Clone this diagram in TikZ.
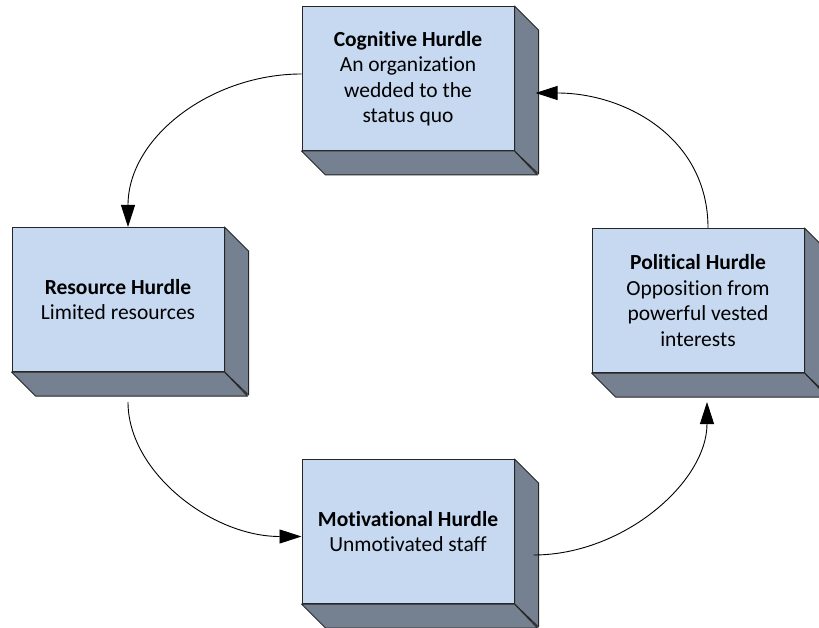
\documentclass[tikz,border=0pt]{standalone}
\usepackage{fontspec}
\setmainfont{Carlito}[Ligatures=NoCommon]
\usetikzlibrary{arrows.meta,calc}
\definecolor{frontblue}{RGB}{198,217,240}
\definecolor{sidegray}{RGB}{117,129,144}
\tikzset{
  hurdle/.style={draw=black!85, line width=1pt, fill=frontblue, minimum width=212pt,
    minimum height=144pt, align=center, inner sep=0pt,
    font=\fontsize{21.5}{25.5}\selectfont},
  sideface/.style={draw=black!85, line width=1pt, fill=sidegray, line join=round},
  link/.style={draw=black, line width=0.9pt, -{Triangle[length=22pt,width=14pt]}},
}
\newcommand\boxsides[1]{%
  \filldraw[sideface] (#1.north east) -- ++(24,24) -- ++(0,144) -- (#1.south east) -- cycle;
  \filldraw[sideface] (#1.south west) -- ++(24,24) -- ++(212,0) -- (#1.south east) -- cycle;
}
\begin{document}
\begin{tikzpicture}[x=1pt,y=-1pt]
  \useasboundingbox (0,0) rectangle (819,628);
  \node[hurdle] (cog) at (408,78.5) {\textbf{Cognitive Hurdle}\\An organization\\wedded to the\\status quo};
  \boxsides{cog}
  \node[hurdle] (res) at (118,299.5) {\textbf{Resource Hurdle}\\Limited resources};
  \boxsides{res}
  \node[hurdle] (mot) at (408,531.5) {\textbf{Motivational Hurdle}\\Unmotivated staff};
  \boxsides{mot}
  \node[hurdle] (pol) at (698,300.5) {\textbf{Political Hurdle}\\Opposition from\\powerful vested\\interests};
  \boxsides{pol}

  \draw[link] ($(cog.west)+(0,-4.5)$) .. controls +(-90,0) and +(0,-90) .. ($(res.north)+(10,0)$);
  \draw[link] ($(res.south)+(10,30)$) .. controls +(0,70) and +(-90,0) .. ($(mot.west)+(0,5)$);
  \draw[link] ($(mot.east)+(19,23.5)$) .. controls +(90,0) and +(0,80) .. ($(pol.south)+(9,29)$);
  \draw[link] ($(pol.north)+(10,0)$) .. controls +(0,-90) and +(90,0) .. ($(cog.east)+(21,14.5)$);
\end{tikzpicture}
\end{document}
